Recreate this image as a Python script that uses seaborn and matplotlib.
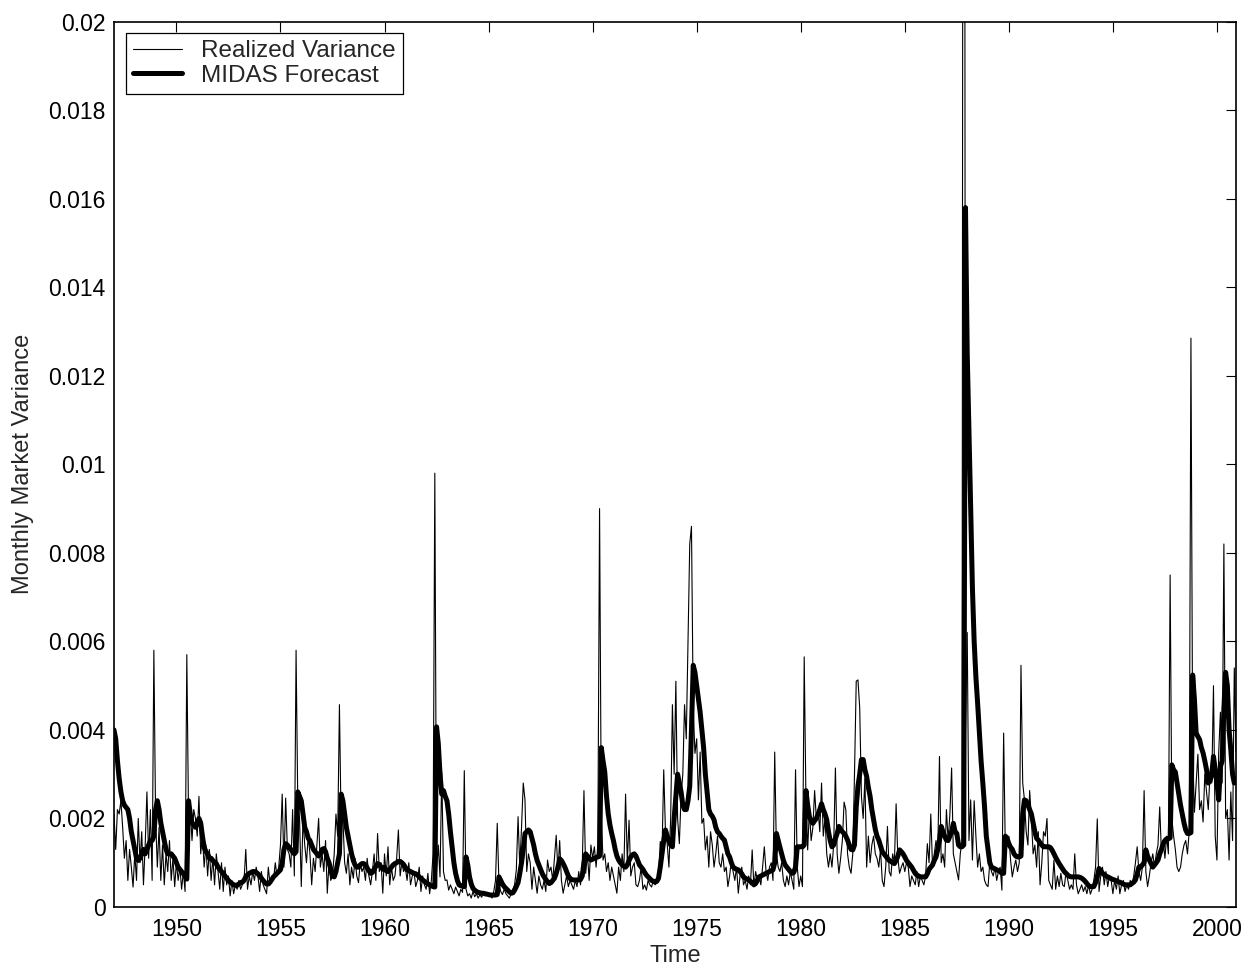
import numpy as np
import pandas as pd
import matplotlib
matplotlib.use("Agg")
import matplotlib.pyplot as plt
import seaborn as sns
from matplotlib.ticker import FuncFormatter

sns.set_style("white")
plt.rcParams['font.family'] = ['Liberation Sans', 'DejaVu Sans']

# monthly data, Jan 1947 .. Dec 2000, values in units of 1e-4
start_year = 1947

# Realized variance, one row per year
rv_1e4 = [
    21, 13, 22, 21, 24, 18, 11, 15, 6, 13, 9, 4.5,          # 1947
    12, 6, 20, 10, 17, 5, 14, 26, 11, 22, 6, 58,            # 1948
    20, 9, 18, 6, 14, 5, 12, 8, 15, 6, 11, 4.6,             # 1949
    10, 6, 9, 4, 8, 3.5, 57, 20, 22, 15, 22, 20,            # 1950
    16, 25, 12, 16, 9, 14, 7, 13, 6, 11, 5, 12,             # 1951
    8, 4, 10, 3.5, 9, 5, 7, 2.5, 6, 3, 5, 4,                # 1952
    6, 4, 5, 6, 13, 4, 7, 5, 8, 6, 9, 7,                    # 1953
    3.5, 8, 5, 4, 3, 9, 5, 7, 6, 10, 7, 9,                  # 1954
    14, 25.5, 9, 24.6, 13, 12, 9, 22, 7, 58, 23, 20,        # 1955
    4.6, 20, 14, 10, 16, 12, 5, 11, 8, 14, 20, 9,           # 1956
    12, 8, 15, 3.1, 10, 6, 7, 12, 21, 16, 45.7, 18,         # 1957
    20, 10, 7.6, 12, 5, 9, 6.5, 11, 7, 5.5, 10, 8,          # 1958
    9, 6, 11, 7, 5, 8, 12, 6, 16.6, 8, 10, 3.1,             # 1959
    12, 7, 13.6, 5, 9, 6, 7, 11, 17.4, 7, 10, 8,            # 1960
    9, 6, 10, 5, 7, 8, 4.6, 6, 9, 3.5, 7, 5,                # 1961
    4, 7.6, 3, 6, 12, 98, 8, 14, 6.8, 30.5, 8, 6,           # 1962
    6.1, 3.8, 5, 4, 3, 4.5, 3.5, 2.5, 4, 3.3, 30.8, 4,      # 1963
    2.5, 3, 2, 3.5, 2.3, 3, 2, 2.8, 2.2, 3, 2.5, 3.2,       # 1964
    2.4, 3, 2, 3.5, 6, 18.9, 5, 3.5, 2.8, 4, 3, 2.5,        # 1965
    2, 3, 4, 5, 8.4, 20.4, 9, 18, 28, 24.2, 8, 12,          # 1966
    10, 4, 9, 6, 3.1, 7, 5, 4, 6, 3.5, 10.6, 8,             # 1967
    9, 6, 11, 16.2, 8, 15, 6, 3.1, 5, 7, 4.6, 6,            # 1968
    5, 4, 6, 4.6, 8, 5, 9, 26.3, 7.6, 12, 6, 14,            # 1969
    11, 13.6, 9, 14, 90, 20.4, 10.6, 12, 8, 10, 6, 9,       # 1970
    7, 5, 3.1, 9, 6, 12, 8, 25.5, 10, 19.6, 7, 9,           # 1971
    10, 5, 4.6, 6, 9, 4, 5, 3.8, 6, 5, 4.5, 6,              # 1972
    5, 6, 7, 14.8, 12, 31, 17, 14.3, 9, 20, 45.7, 30,       # 1973
    51, 20, 14.3, 25, 30, 45.7, 38, 60, 82, 86, 45, 34.7,   # 1974
    38, 24.2, 35, 18.9, 20, 12.9, 16, 9, 17, 14, 9, 12,     # 1975
    16, 10, 9, 12, 8, 9, 4.6, 7, 10.6, 8, 6, 9,             # 1976
    3.1, 7, 9, 5, 6, 4, 7, 5, 12.9, 4.6, 8, 6,              # 1977
    7, 5, 9, 13.6, 8, 6, 9, 10, 6, 35, 12, 9,               # 1978
    8, 10, 6, 4.6, 7, 5, 8, 6, 4, 31, 9, 4.6,               # 1979
    7, 4.6, 56.5, 24.2, 12.9, 22, 15, 18, 26.3, 20, 22, 17, # 1980
    28, 16, 20, 12, 9, 12, 9, 14, 31.4, 12, 7.6, 11,        # 1981
    15, 23.7, 22, 12, 9, 7.6, 12, 30, 51, 51.3, 45, 25,     # 1982
    20, 29, 9, 16, 10, 14, 16, 12, 11, 9, 13, 6,            # 1983
    4.6, 9, 18.2, 8, 7, 12, 10, 23.3, 11, 7.6, 9, 10,       # 1984
    8, 10, 9, 4.6, 7, 6, 5, 8, 4.6, 7, 6, 5,                # 1985
    7, 14.3, 10, 21, 9, 12, 15, 12, 34, 10, 12, 9,          # 1986
    22, 15, 20.9, 31.4, 12, 10, 8, 6.1, 12, 15, 520, 40,    # 1987
    62, 15, 24.2, 10.6, 24, 16, 9, 12, 8, 9, 6, 5,          # 1988
    4.6, 10, 8, 7, 9, 6, 8, 9, 3.8, 39.3, 12, 14,           # 1989
    16, 10.6, 6.8, 9, 10.6, 8, 10, 54.6, 28, 24.2, 17, 14,  # 1990
    26.3, 20, 12, 14, 9, 17, 5, 10, 17, 16, 20, 6,          # 1991
    5, 4, 10.6, 4, 7, 4.6, 7.6, 5, 4.6, 8, 6, 4,            # 1992
    5, 4, 12, 5, 3, 4, 5, 3.5, 4.6, 3, 5, 2.9,              # 1993
    4, 6, 9, 19.9, 3.5, 7, 9, 5, 8, 4.6, 7, 6,              # 1994
    3, 6, 4, 7, 3, 5, 6, 3.5, 5, 4, 6, 5,                   # 1995
    7, 10, 13.6, 8, 6, 9, 26.3, 8, 4.6, 7, 10, 12,          # 1996
    9, 12, 14, 22.6, 12, 15, 11, 16, 12, 75, 20, 16,        # 1997
    13, 9, 8, 9, 12, 14, 15, 12, 17, 128.5, 35, 21.4,       # 1998
    28, 34.5, 22, 24, 19.2, 30, 26.1, 22, 30, 28, 50, 16,   # 1999
    10.6, 34.8, 44, 28, 82, 20, 22, 10.6, 26, 15, 54, 35,   # 2000
]

# MIDAS forecast, one row per year
midas_1e4 = [
    40, 38, 33, 29, 26, 24, 23, 22.5, 22, 20, 17, 15,               # 1947
    13, 11, 10.5, 11, 12, 13, 12, 13, 14, 15, 15, 16,               # 1948
    22, 24, 22, 19, 17, 15, 13, 12, 12, 12, 11.5, 11,               # 1949
    10, 9, 8.5, 8, 7.5, 7, 6.3, 24, 21, 19, 18.5, 18,               # 1950
    19, 20, 19, 16, 13.5, 12.5, 12, 11, 11, 10.5, 10, 9.8,          # 1951
    9, 8.5, 8, 7.5, 7, 6.5, 6, 5.6, 5.3, 5, 4.9, 4.9,               # 1952
    5.2, 5.5, 5.6, 6, 6.8, 7.3, 7.6, 7.8, 8, 8, 7.8, 7.5,           # 1953
    7, 6.5, 6, 5.5, 5.2, 5.2, 5.6, 6.2, 6.8, 7.2, 7.6, 8,           # 1954
    8.4, 10, 13, 14.3, 14, 13.5, 13, 12.5, 12, 12.5, 26, 25,        # 1955
    24, 21, 18, 17, 15.5, 15, 14, 13, 12.5, 12, 11.5, 12,           # 1956
    13, 13.2, 12.5, 11, 10, 8.5, 7, 6.8, 8, 10, 12, 25.5,           # 1957
    24, 21, 18, 16, 14, 12, 10.5, 9.5, 9, 9, 9.5, 9.8,              # 1958
    9.8, 9.5, 8.8, 8.2, 7.6, 7.8, 8.5, 9.2, 9.8, 9.6, 9, 8.5,       # 1959
    9, 8.2, 8, 8.5, 9, 9.5, 9.8, 10, 10.3, 10.3, 10, 9.6,           # 1960
    9, 8.4, 8.2, 8, 7.8, 7.6, 7.5, 7.2, 6.8, 6.4, 6.1, 5.8,         # 1961
    5.5, 5.2, 5, 4.8, 4.6, 4.5, 40.7, 37, 30, 25.5, 26.3, 25,       # 1962
    24, 21, 17, 13.6, 10, 7.6, 6, 5, 4.8, 4.7, 4.6, 11.3,           # 1963
    9.5, 6.8, 5.2, 4.2, 3.8, 3.5, 3.3, 3.2, 3.1, 3.1, 3, 2.9,       # 1964
    2.8, 2.7, 2.7, 2.7, 2.7, 2.8, 6.8, 6, 5.2, 4.6, 4.2, 3.8,       # 1965
    3.4, 3.1, 3.2, 3.8, 4.6, 5.5, 7.6, 10, 13, 16.6, 17, 17.4,      # 1966
    17, 15.5, 14, 12, 10.5, 9.5, 8.5, 7.5, 6.8, 6.2, 5.7, 5.3,      # 1967
    5.5, 6, 6.5, 7.6, 9, 10.9, 10.5, 9.8, 9, 8, 7, 6.4,             # 1968
    6.2, 6.1, 6.1, 6.1, 6.1, 6.2, 7, 10, 12, 11.5, 11, 10.6,        # 1969
    10.8, 11, 11.2, 11.3, 11.5, 36, 33, 30.5, 25, 21, 18.5, 16.6,   # 1970
    15, 13, 11.5, 10.6, 10, 9.5, 9.2, 9, 9.5, 10.5, 11.3, 11.8,     # 1971
    12, 11.5, 10.5, 9.5, 9, 8.5, 7.8, 7.2, 6.8, 6.4, 6, 5.8,        # 1972
    5.6, 5.8, 6.5, 9, 12, 15, 17.4, 16, 15, 14, 13.6, 20,           # 1973
    25, 30, 28, 26, 23, 22, 22, 24, 27.3, 40, 54.6, 53,             # 1974
    50, 47, 44, 40, 36, 30, 26, 22, 21, 20.5, 19.7, 18,             # 1975
    17, 16.6, 16, 15.5, 15.1, 13.5, 12, 11.3, 10, 9, 8.7, 8.5,      # 1976
    8.4, 8, 7.5, 6.8, 6.5, 6.3, 6.1, 5.8, 5.5, 5, 5.3, 6,           # 1977
    6.8, 7, 7.2, 7.4, 7.6, 7.8, 8, 8.2, 8.4, 10, 16.6, 15,          # 1978
    13.5, 12, 10.5, 9.5, 9, 8.5, 8, 7.6, 7.8, 9, 13.6, 13.6,        # 1979
    13.6, 13.6, 14, 26.3, 23, 20.4, 19.5, 18.9, 19.5, 20, 21, 22,   # 1980
    23.3, 22, 21, 19.7, 17, 15, 13.6, 14, 15.5, 16.6, 18.2, 17.5,   # 1981
    17, 16.6, 16, 15.1, 14, 13, 12.9, 14, 22.6, 27.3, 30, 33.3,     # 1982
    33.3, 31, 29.5, 27, 25, 22, 19.7, 17.5, 16, 15.1, 13.8, 12.5,   # 1983
    12, 11.5, 11, 10.5, 10.3, 10, 9.8, 10.5, 11.5, 12.9, 12.5, 12,  # 1984
    11.3, 10.5, 10, 9.5, 9, 8.3, 7.6, 7.2, 7, 6.8, 6.8, 6.8,        # 1985
    6.8, 7.5, 8.5, 9, 9.5, 10.5, 11.3, 13, 15, 18.2, 17, 16,        # 1986
    15.1, 15, 16, 17, 18.9, 17, 16.6, 14, 13.6, 13.6, 14, 158,      # 1987
    125, 108, 90, 72, 60, 52, 46, 39.3, 33, 28, 22.6, 16,           # 1988
    12.9, 10, 9, 8.8, 8.6, 8.4, 8.2, 8, 7.6, 7.6, 16, 15.5,         # 1989
    14.3, 13.5, 13, 12, 11.5, 11.3, 11.3, 11.5, 21, 24.2, 24, 23,   # 1990
    22, 21, 19, 17, 15.5, 15.1, 14.5, 14, 13.6, 13.6, 13.6, 13.6,   # 1991
    13.4, 12.8, 12, 11.2, 10.5, 9.8, 9.2, 8.6, 8, 7.6, 7.2, 6.9,    # 1992
    6.8, 6.8, 6.8, 6.8, 6.8, 6.7, 6.5, 6.2, 5.8, 5.3, 4.8, 4.6,     # 1993
    4.6, 4.6, 5.5, 6.8, 8.7, 8.2, 7.6, 7.3, 7, 6.8, 6.6, 6.4,       # 1994
    6.2, 6.1, 5.9, 5.7, 5.6, 5.4, 5.2, 5, 5, 5, 5, 5.3,             # 1995
    5.6, 6.1, 7.5, 9, 9, 9.5, 10, 12.9, 11.5, 10.6, 9.8, 9,         # 1996
    9.5, 10, 10.6, 12, 13, 14.3, 15, 15.4, 15.4, 15.6, 32.1, 31,    # 1997
    30.5, 28, 25.5, 23, 21, 19, 17.4, 16.6, 16.6, 16.8, 52.4, 47,   # 1998
    39.3, 38.5, 37.8, 36, 34.8, 33, 31, 28, 28.5, 30, 34, 31,       # 1999
    28, 24.2, 31.7, 33, 44.8, 53, 50, 40, 35.5, 30, 28, 29,         # 2000
]

n = len(rv_1e4)
time = start_year + np.arange(n) / 12.0
df = pd.DataFrame({
    'Time': time,
    'rv': np.array(rv_1e4) * 1e-4,
    'midas': np.array(midas_1e4) * 1e-4,
})

fig = plt.figure(figsize=(12.47, 9.72), dpi=100)
ax = fig.add_axes([0.0914, 0.0669, 0.8998, 0.9108])

sns.lineplot(data=df, x='Time', y='rv', ax=ax, color='black', linewidth=0.8,
             label='Realized Variance')
sns.lineplot(data=df, x='Time', y='midas', ax=ax, color='black', linewidth=3.6,
             label='MIDAS Forecast')

ax.set_xlim(time[0], time[-1])
ax.set_ylim(0, 0.02)
ax.set_xticks(np.arange(1950, 2001, 5))
ax.set_yticks(np.arange(0, 0.0201, 0.002))
ax.yaxis.set_major_formatter(FuncFormatter(lambda v, p: '%g' % round(v, 4)))

ax.tick_params(direction='in', length=7, width=0.8, top=True, right=True,
               labelsize=16.5, colors='black')
ax.tick_params(axis='x', pad=8)
ax.tick_params(axis='y', pad=6)
for s in ax.spines.values():
    s.set_visible(True)
    s.set_color('black')
    s.set_linewidth(1.2)

ax.set_xlabel('Time', fontsize=17, labelpad=3)
ax.set_ylabel('Monthly Market Variance', fontsize=17, labelpad=10)

leg = ax.legend(loc='upper left', bbox_to_anchor=(0.0107, 0.987), borderaxespad=0,
                fontsize=17.5, frameon=True, fancybox=False, framealpha=1,
                edgecolor='black', handlelength=2.0, borderpad=0.3,
                labelspacing=0.1, handletextpad=0.8)
leg.get_frame().set_linewidth(0.9)

fig.savefig('out.png', dpi=100)
